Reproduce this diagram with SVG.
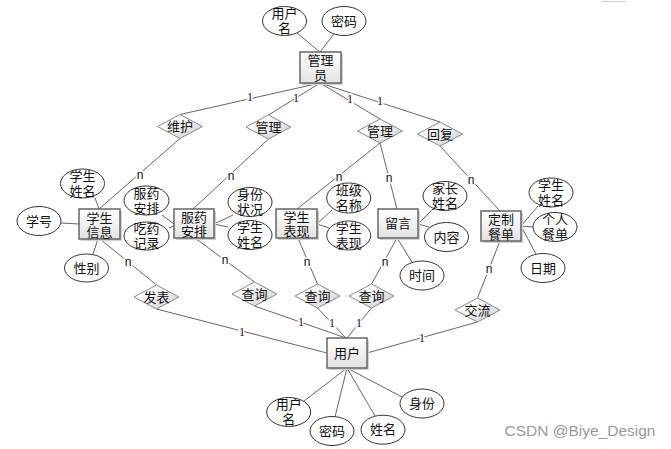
<svg xmlns="http://www.w3.org/2000/svg" width="671" height="449" viewBox="0 0 671 449">
<defs>
<linearGradient id="gb" x1="0" y1="0" x2="0" y2="1"><stop offset="0" stop-color="#ffffff"/><stop offset="1" stop-color="#e2e2e2"/></linearGradient>
<linearGradient id="gd" x1="0" y1="0" x2="1" y2="1"><stop offset="0.3" stop-color="#ffffff"/><stop offset="1" stop-color="#c8c8c8"/></linearGradient>
<style>
.t{font-family:"Noto Sans CJK SC","Liberation Sans",sans-serif;font-size:13px;fill:#111;text-anchor:middle}
.box{fill:url(#gb);stroke:#666;stroke-width:1.5}
.sh{fill:#d0d0d0}
.dia{fill:url(#gd);stroke:#888;stroke-width:1}
.ell{fill:#fff;stroke:#333;stroke-width:1}
.c line{stroke:#666;stroke-width:1}
.lb{font-size:12px;text-anchor:middle;stroke:#fff;stroke-width:3;paint-order:stroke}
.one{font-family:"Liberation Serif",serif;fill:#300030}
.n{font-family:"Liberation Sans",sans-serif;fill:#111}
</style>
</defs>
<rect width="671" height="449" fill="#fff"/>
<line x1="602" y1="1.5" x2="626" y2="1.5" stroke="#ccc" stroke-width="1"/>

<g id="connectors" class="c">
<line x1="320" y1="83" x2="180" y2="114.5"/>
<line x1="320" y1="83" x2="268.5" y2="115"/>
<line x1="320" y1="83" x2="380" y2="119"/>
<line x1="320" y1="83" x2="440" y2="122"/>
<line x1="180" y1="138.5" x2="99" y2="209"/>
<line x1="268.5" y1="139" x2="193" y2="209"/>
<line x1="380" y1="143" x2="297" y2="209"/>
<line x1="380" y1="143" x2="397" y2="209"/>
<line x1="440" y1="146" x2="500" y2="211"/>
<line x1="100" y1="239" x2="156.5" y2="285"/>
<line x1="195" y1="238" x2="254.5" y2="282"/>
<line x1="298" y1="238" x2="317.5" y2="284"/>
<line x1="397" y1="238" x2="371.5" y2="284"/>
<line x1="500" y1="241" x2="477.5" y2="298"/>
<line x1="156.5" y1="309" x2="327" y2="353"/>
<line x1="254.5" y1="306" x2="346" y2="338"/>
<line x1="317.5" y1="308" x2="346" y2="338"/>
<line x1="371.5" y1="308" x2="347" y2="338"/>
<line x1="367" y1="353" x2="477.5" y2="322"/>
<line x1="297" y1="33" x2="320" y2="52"/>
<line x1="334" y1="34" x2="320" y2="52"/>
<line x1="95" y1="198" x2="99" y2="209"/>
<line x1="61" y1="223" x2="79" y2="224"/>
<line x1="93" y1="254" x2="98" y2="239"/>
<line x1="162" y1="215" x2="174" y2="224"/>
<line x1="169" y1="228" x2="174" y2="226"/>
<line x1="214" y1="224" x2="233" y2="215"/>
<line x1="214" y1="224" x2="228" y2="227"/>
<line x1="317" y1="224" x2="332" y2="210"/>
<line x1="317" y1="224" x2="329" y2="228"/>
<line x1="418" y1="224" x2="433" y2="209"/>
<line x1="418" y1="224" x2="429" y2="227"/>
<line x1="397" y1="238" x2="412" y2="262"/>
<line x1="521" y1="226" x2="538" y2="206"/>
<line x1="521" y1="226" x2="533" y2="227"/>
<line x1="521" y1="226" x2="536" y2="254"/>
<line x1="347" y1="368" x2="304" y2="401"/>
<line x1="347" y1="368" x2="335" y2="417"/>
<line x1="347" y1="368" x2="375" y2="416"/>
<line x1="347" y1="368" x2="402" y2="397"/>
</g>

<g id="labels">
<text class="lb one" x="250" y="101">1</text>
<text class="lb one" x="296" y="102">1</text>
<text class="lb one" x="350" y="103">1</text>
<text class="lb one" x="380" y="105">1</text>
<text class="lb n" x="140" y="179">n</text>
<text class="lb n" x="231" y="180">n</text>
<text class="lb n" x="339" y="181">n</text>
<text class="lb n" x="389" y="182">n</text>
<text class="lb n" x="471" y="184">n</text>
<text class="lb n" x="128" y="266">n</text>
<text class="lb n" x="225" y="264">n</text>
<text class="lb n" x="307" y="266">n</text>
<text class="lb n" x="385" y="266">n</text>
<text class="lb n" x="489" y="273">n</text>
<text class="lb one" x="242" y="336">1</text>
<text class="lb one" x="301" y="326">1</text>
<text class="lb one" x="332" y="327">1</text>
<text class="lb one" x="359" y="327">1</text>
<text class="lb one" x="422" y="342">1</text>
</g>

<g id="admin"><rect class="sh" x="302" y="54" width="41" height="31"/><rect class="box" x="300" y="52" width="41" height="31"/><text class="t" x="320.5" y="65">管理</text><text class="t" x="320.5" y="80">员</text></g>
<g id="student-info"><rect class="sh" x="81" y="211" width="41" height="30"/><rect class="box" x="79" y="209" width="41" height="30"/><text class="t" x="99.5" y="222.5">学生</text><text class="t" x="99.5" y="236.5">信息</text></g>
<g id="med-plan"><rect class="sh" x="176" y="211" width="40" height="29"/><rect class="box" x="174" y="209" width="40" height="29"/><text class="t" x="194" y="222">服药</text><text class="t" x="194" y="236">安排</text></g>
<g id="student-perf"><rect class="sh" x="278" y="211" width="41" height="29"/><rect class="box" x="276" y="209" width="41" height="29"/><text class="t" x="296.5" y="222">学生</text><text class="t" x="296.5" y="236">表现</text></g>
<g id="message"><rect class="sh" x="380" y="211" width="40" height="29"/><rect class="box" x="378" y="209" width="40" height="29"/><text class="t" x="398" y="228">留言</text></g>
<g id="custom-menu"><rect class="sh" x="483" y="213" width="40" height="30"/><rect class="box" x="481" y="211" width="40" height="30"/><text class="t" x="501" y="224">定制</text><text class="t" x="501" y="238.5">餐单</text></g>
<g id="user"><rect class="sh" x="329" y="340" width="40" height="30"/><rect class="box" x="327" y="338" width="40" height="30"/><text class="t" x="347" y="357.5">用户</text></g>

<g id="r-maintain"><polygon class="dia" points="157.5,126.5 180,114.5 202.5,126.5 180,138.5"/><text class="t" x="180" y="131">维护</text></g>
<g id="r-manage1"><polygon class="dia" points="246,127 268.5,115 291,127 268.5,139"/><text class="t" x="268.5" y="131.5">管理</text></g>
<g id="r-manage2"><polygon class="dia" points="357.5,131 380,119 402.5,131 380,143"/><text class="t" x="380" y="135.5">管理</text></g>
<g id="r-reply"><polygon class="dia" points="417.5,134 440,122 462.5,134 440,146"/><text class="t" x="440" y="138.5">回复</text></g>
<g id="r-publish"><polygon class="dia" points="134,297 156.5,285 179,297 156.5,309"/><text class="t" x="156.5" y="301.5">发表</text></g>
<g id="r-query1"><polygon class="dia" points="232,294 254.5,282 277,294 254.5,306"/><text class="t" x="254.5" y="298.5">查询</text></g>
<g id="r-query2"><polygon class="dia" points="295,296 317.5,284 340,296 317.5,308"/><text class="t" x="317.5" y="300.5">查询</text></g>
<g id="r-query3"><polygon class="dia" points="349,296 371.5,284 394,296 371.5,308"/><text class="t" x="371.5" y="300.5">查询</text></g>
<g id="r-exchange"><polygon class="dia" points="455,310 477.5,298 500,310 477.5,322"/><text class="t" x="477.5" y="314.5">交流</text></g>

<g id="a-admin-name"><ellipse class="ell" cx="284.5" cy="21" rx="22" ry="14.5"/><text class="t" x="284.5" y="18">用户</text><text class="t" x="284.5" y="33">名</text></g>
<g id="a-admin-pwd"><ellipse class="ell" cx="344" cy="21" rx="22" ry="14.5"/><text class="t" x="344" y="25.5">密码</text></g>
<g id="a-si-name"><ellipse class="ell" cx="82.5" cy="183.5" rx="22" ry="14.5"/><text class="t" x="82.5" y="181">学生</text><text class="t" x="82.5" y="196">姓名</text></g>
<g id="a-si-no"><ellipse class="ell" cx="39" cy="221" rx="22" ry="14.5"/><text class="t" x="39" y="225.5">学号</text></g>
<g id="a-si-sex"><ellipse class="ell" cx="86.5" cy="268" rx="22" ry="14"/><text class="t" x="86.5" y="272.5">性别</text></g>
<g id="a-mp-plan"><ellipse class="ell" cx="146.5" cy="200.5" rx="22.5" ry="14.5"/><text class="t" x="146.5" y="197.5">服药</text><text class="t" x="146.5" y="212.5">安排</text></g>
<g id="a-mp-rec"><ellipse class="ell" cx="146.5" cy="236" rx="22.5" ry="14"/><text class="t" x="146.5" y="233">吃药</text><text class="t" x="146.5" y="248">记录</text></g>
<g id="a-mp-status"><ellipse class="ell" cx="250" cy="202" rx="22" ry="14.5"/><text class="t" x="250" y="199">身份</text><text class="t" x="250" y="214">状况</text></g>
<g id="a-mp-name"><ellipse class="ell" cx="250" cy="235" rx="22" ry="14.5"/><text class="t" x="250" y="232">学生</text><text class="t" x="250" y="247">姓名</text></g>
<g id="a-sp-class"><ellipse class="ell" cx="348.7" cy="198" rx="22" ry="15"/><text class="t" x="348.7" y="195">班级</text><text class="t" x="348.7" y="210">名称</text></g>
<g id="a-sp-perf"><ellipse class="ell" cx="348.7" cy="235.5" rx="22" ry="14.5"/><text class="t" x="348.7" y="232.5">学生</text><text class="t" x="348.7" y="247.5">表现</text></g>
<g id="a-msg-parent"><ellipse class="ell" cx="445" cy="196" rx="22" ry="14.5"/><text class="t" x="445" y="193">家长</text><text class="t" x="445" y="208">姓名</text></g>
<g id="a-msg-content"><ellipse class="ell" cx="446.5" cy="237" rx="22" ry="14.5"/><text class="t" x="446.5" y="241.5">内容</text></g>
<g id="a-msg-time"><ellipse class="ell" cx="422" cy="275.5" rx="22" ry="14.5"/><text class="t" x="422" y="280">时间</text></g>
<g id="a-cm-name"><ellipse class="ell" cx="551" cy="192.5" rx="22" ry="14.5"/><text class="t" x="551" y="189.5">学生</text><text class="t" x="551" y="204.5">姓名</text></g>
<g id="a-cm-menu"><ellipse class="ell" cx="555" cy="227" rx="22" ry="14.5"/><text class="t" x="555" y="224">个人</text><text class="t" x="555" y="239">餐单</text></g>
<g id="a-cm-date"><ellipse class="ell" cx="543" cy="268" rx="22" ry="14.5"/><text class="t" x="543" y="272.5">日期</text></g>
<g id="a-u-name"><ellipse class="ell" cx="288.7" cy="412" rx="22" ry="14.5"/><text class="t" x="288.7" y="409">用户</text><text class="t" x="288.7" y="424">名</text></g>
<g id="a-u-pwd"><ellipse class="ell" cx="332" cy="431" rx="22" ry="14.5"/><text class="t" x="332" y="435.5">密码</text></g>
<g id="a-u-real"><ellipse class="ell" cx="383" cy="429.7" rx="22" ry="14.5"/><text class="t" x="383" y="434.2">姓名</text></g>
<g id="a-u-role"><ellipse class="ell" cx="422" cy="403.5" rx="22" ry="14.5"/><text class="t" x="422" y="408">身份</text></g>

<text x="580" y="436" font-family="'Liberation Sans',sans-serif" font-size="15.5" fill="#999" text-anchor="middle">CSDN @Biye_Design</text>
</svg>
